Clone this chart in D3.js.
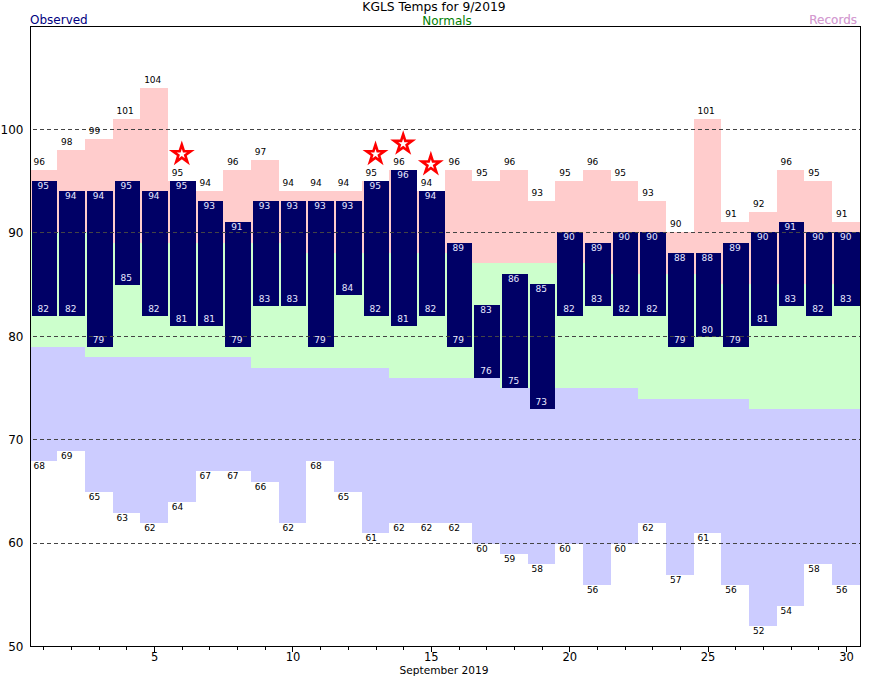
<!DOCTYPE html>
<html>
<head>
<meta charset="utf-8">
<script src="https://cdnjs.cloudflare.com/ajax/libs/d3/7.8.5/d3.min.js"></script>
<style>
  html, body { margin: 0; padding: 0; background: #fff; }
  svg { display: block; }
  text { font-family: "DejaVu Sans", sans-serif; }
</style>
</head>
<body>
<script>
// Values, one per day of the month
const days = d3.range(1, 31);
const recordHigh = [96, 98, 99, 101, 104, 95, 94, 96, 97, 94, 94, 94, 95, 96, 94, 96, 95, 96, 93, 95, 96, 95, 93, 90, 101, 91, 92, 96, 95, 91];
const normalHigh = [90, 90, 90, 89, 89, 89, 89, 89, 89, 89, 88, 88, 88, 88, 88, 88, 87, 87, 87, 87, 87, 86, 86, 86, 86, 85, 85, 85, 85, 85];
const normalLow = [79, 79, 78, 78, 78, 78, 78, 78, 77, 77, 77, 77, 77, 76, 76, 76, 76, 75, 75, 75, 75, 75, 74, 74, 74, 74, 73, 73, 73, 73];
const recordLow = [68, 69, 65, 63, 62, 64, 67, 67, 66, 62, 68, 65, 61, 62, 62, 62, 60, 59, 58, 60, 56, 60, 62, 57, 61, 56, 52, 54, 58, 56];
const obsHigh = [95, 94, 94, 95, 94, 95, 93, 91, 93, 93, 93, 93, 95, 96, 94, 89, 83, 86, 85, 90, 89, 90, 90, 88, 88, 89, 90, 91, 90, 90];
const obsLow = [82, 82, 79, 85, 82, 81, 81, 79, 83, 83, 79, 84, 82, 81, 82, 79, 76, 75, 73, 82, 83, 82, 82, 79, 80, 79, 81, 83, 82, 83];
const recordDays = [6, 13, 14, 15];
const yTicks = [50, 60, 70, 80, 90, 100];
const gridTicks = [60, 70, 80, 90, 100];
const xLabels = [5, 10, 15, 20, 25, 30];

const w = 870;
const h = 676;
const left = 30.5;
const right = 860.5;
const top_ = 26.5;
const bottom = 646.5;

const svg = d3.select("body").append("svg").attr("width", w).attr("height", h);

const x = d3.scaleLinear().domain([0.5, 30.5]).range([29.6, 859.8]);
const y = d3.scaleLinear().domain([50, 110]).range([646.5, 26]);

const edge = (d) => Math.round(x(d));
// upper edges snap up, lower edges snap down, same as the reference's pixels
const upperY = (v) => Math.floor(y(v));
const lowerY = (v) => Math.ceil(y(v));

svg.append("clipPath").attr("id", "plot")
  .append("rect")
  .attr("x", left).attr("y", top_)
  .attr("width", right - left).attr("height", bottom - top_);

const plot = svg.append("g").attr("clip-path", "url(#plot)");

// Background bands
function band(lower, upper, color) {
  plot.append("g")
    .attr("shape-rendering", "crispEdges")
    .selectAll("rect")
    .data(days)
    .enter()
    .append("rect")
    .attr("x", (d) => edge(d - 0.5))
    .attr("width", (d) => edge(d + 0.5) - edge(d - 0.5))
    .attr("y", (d, i) => upperY(upper[i]))
    .attr("height", (d, i) => lowerY(lower[i]) - upperY(upper[i]))
    .attr("fill", color);
}
band(normalHigh, recordHigh, "#ffcccc");
band(recordLow, normalLow, "#ccccff");
band(normalLow, normalHigh, "#ccffcc");

// Observed bars
plot.append("g")
  .attr("shape-rendering", "crispEdges")
  .selectAll("rect")
  .data(days)
  .enter()
  .append("rect")
  .attr("x", (d) => edge(d - 0.5) + 2)
  .attr("width", (d) => edge(d + 0.5) - edge(d - 0.5) - 2)
  .attr("y", (d, i) => upperY(obsHigh[i]))
  .attr("height", (d, i) => lowerY(obsLow[i]) - upperY(obsHigh[i]))
  .attr("fill", "#000066");

// Grid lines sit over the bars
svg.append("g")
  .selectAll("line")
  .data(gridTicks)
  .enter()
  .append("line")
  .attr("x1", left + 2)
  .attr("x2", right)
  .attr("y1", (d) => upperY(d) + 0.5)
  .attr("y2", (d) => upperY(d) + 0.5)
  .attr("stroke", "#444")
  .attr("stroke-dasharray", "4,3")
  .attr("shape-rendering", "crispEdges");

// Value labels
function labels(values, edgeY, dx, dy, color) {
  svg.append("g")
    .selectAll("text")
    .data(days)
    .enter()
    .append("text")
    .attr("x", (d) => x(d) + dx)
    .attr("y", (d, i) => edgeY(values[i]) + dy)
    .attr("font-size", "9px")
    .attr("fill", color)
    .text((d, i) => values[i]);
}
labels(recordHigh, upperY, -10, -5, "#000");
labels(recordLow, lowerY, -10, 7.5, "#000");
labels(obsHigh, upperY, -6, 7.5, "#e8e8ff");
labels(obsLow, lowerY, -6, -4, "#e8e8ff");

// Stars on the days that tied a record
svg.append("g")
  .selectAll("path")
  .data(recordDays)
  .enter()
  .append("path")
  .attr("d", d3.symbol().type(d3.symbolStar).size(100))
  .attr("transform", (d) => "translate(" + x(d) + "," + (y(recordHigh[d - 1]) - 27) + ")")
  .attr("fill", "#fff")
  .attr("stroke", "#ff0000")
  .attr("stroke-width", 2.6);

// Frame
svg.append("rect")
  .attr("x", left).attr("y", top_)
  .attr("width", right - left).attr("height", bottom - top_)
  .attr("fill", "none")
  .attr("stroke", "#000")
  .attr("shape-rendering", "crispEdges");

// Axes
const yAxis = d3.axisLeft(y).tickValues(yTicks).tickSize(0).tickPadding(7);
const yG = svg.append("g").attr("transform", "translate(" + left + ",0)").call(yAxis);
yG.select(".domain").remove();
yG.selectAll("text").attr("font-size", "12px").attr("font-family", null).attr("fill", "#000");

const xAxis = d3.axisBottom(x)
  .tickValues(days)
  .tickSize(3)
  .tickPadding(3)
  .tickFormat((d) => (xLabels.includes(d) ? d : ""));
const xG = svg.append("g").attr("transform", "translate(0," + bottom + ")").call(xAxis);
xG.select(".domain").remove();
xG.selectAll("text").attr("font-size", "11.5px").attr("font-family", null).attr("fill", "#000");
xG.selectAll(".tick line")
  .attr("y2", (d) => (xLabels.includes(d) ? 5 : 3))
  .attr("shape-rendering", "crispEdges");

// Titles
function caption(str, px, py, anchor, color, size) {
  svg.append("text")
    .attr("x", px).attr("y", py)
    .attr("text-anchor", anchor)
    .attr("font-size", size + "px")
    .attr("fill", color)
    .text(str);
}
caption("KGLS Temps for 9/2019", 434, 10.5, "middle", "#000", 12.3);
caption("Observed", 30, 24, "start", "#000080", 12);
caption("Normals", 447, 24.5, "middle", "#008000", 12);
caption("Records", 857, 24, "end", "#b0a0f0", 12);
caption("Records", 857, 24, "end", "rgba(255,150,170,0.5)", 12);
caption("September 2019", 444, 673.5, "middle", "#000", 10.6);
</script>
</body>
</html>
